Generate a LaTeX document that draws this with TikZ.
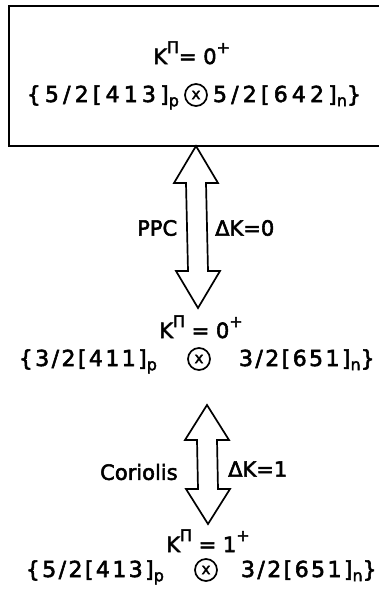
\documentclass[tikz,border=0pt]{standalone}
\usepackage{fontspec}
\setmainfont{DejaVu Sans}[FakeBold=2.5]
\newfontfamily\spaced{DejaVu Sans}[LetterSpace=11,FakeBold=2.5]
\newfontfamily\spacedwide{DejaVu Sans}[LetterSpace=19,FakeBold=2.5]
\usetikzlibrary{calc}
\newcommand\upsc[1]{\raisebox{0.95ex}{\fontsize{16}{16}\selectfont #1}}
\newcommand\lowsc[1]{\raisebox{-0.35ex}{\fontsize{16}{16}\selectfont #1}}
% hollow double arrow: top tip, bottom tip, head length, half head width, half shaft width
\newcommand\hollowarrow[5]{%
  \draw[arrowline] (#1) -- ($(#1)+(#4,#3)$) -- ($(#1)+(#5,#3)$) -- ($(#2)+(#5,-#3)$)
    -- ($(#2)+(#4,-#3)$) -- (#2) -- ($(#2)+(-#4,-#3)$) -- ($(#2)+(-#5,-#3)$)
    -- ($(#1)+(-#5,#3)$) -- ($(#1)+(-#4,#3)$) -- cycle;}
\begin{document}
\begin{tikzpicture}[x=1pt,y=-1pt,
  txt/.style={inner sep=0pt, font=\fontsize{21}{25}\selectfont},
  formula/.style={inner sep=0pt, font=\spaced\fontsize{22}{26}\selectfont},
  formulawide/.style={inner sep=0pt, font=\spacedwide\fontsize{22}{26}\selectfont},
  otimes/.style={draw, circle, line width=1.7pt, minimum size=22pt, inner sep=0pt,
    font=\fontsize{15}{15}\selectfont},
  frame/.style={draw, line width=1.7pt},
  arrowline/.style={line width=1.7pt, line join=miter}]
\useasboundingbox (0,0) rectangle (379,602);
\clip (0,0) rectangle (379,602);
% top box
\node[frame, minimum width=380pt, minimum height=140pt, anchor=north west] (box) at (8,5) {};
\node[txt, anchor=base west] (k1) at (153,64) {K\upsc{Π}= 0\upsc{+}};
\node[otimes] (c1) at (196,95) {x};
\path (c1.west) ++(-5,7) coordinate (l1e);
\path (c1.east) ++(5,7) coordinate (r1w);
\node[formulawide, anchor=base east] (l1) at (l1e) {\{5/2[413]\lowsc{p}};
\node[formulawide, anchor=base west] (r1) at (r1w) {5/2[642]\lowsc{n}\}};
% arrow 1
\coordinate (a1t) at (196,146);
\coordinate (a1b) at (198,308);
\hollowarrow{a1t}{a1b}{37}{22}{10}
\node[txt, anchor=west] (ppc) at (137,228) {PPC};
\node[txt, anchor=west] (dk0) at (215,228) {ΔK=0};
% second state
\node[txt, anchor=base west] (k2) at (159,338) {K\upsc{Π} = 0\upsc{+}};
\node[otimes] (c2) at (199,359) {x};
\path (c2.west) ++(-30,7) coordinate (l2e);
\path (c2.east) ++(28,7) coordinate (r2w);
\node[formula, anchor=base east] (l2) at (l2e) {\{3/2[411]\lowsc{p}};
\node[formula, anchor=base west] (r2) at (r2w) {3/2[651]\lowsc{n}\}};
% arrow 2
\coordinate (a2t) at (207,405);
\coordinate (a2b) at (208,524);
\hollowarrow{a2t}{a2b}{35}{22}{10}
\node[txt, anchor=west] (cor) at (100,472) {Coriolis};
\node[txt, anchor=west] (dk1) at (228,469) {ΔK=1};
% third state
\node[txt, anchor=base west] (k3) at (166,552) {K\upsc{Π} = 1\upsc{+}};
\node[otimes] (c3) at (206,570) {x};
\path (c3.west) ++(-30,7) coordinate (l3e);
\path (c3.east) ++(23,7) coordinate (r3w);
\node[formula, anchor=base east] (l3) at (l3e) {\{5/2[413]\lowsc{p}};
\node[formula, anchor=base west] (r3) at (r3w) {3/2[651]\lowsc{n}\}};
\end{tikzpicture}
\end{document}
